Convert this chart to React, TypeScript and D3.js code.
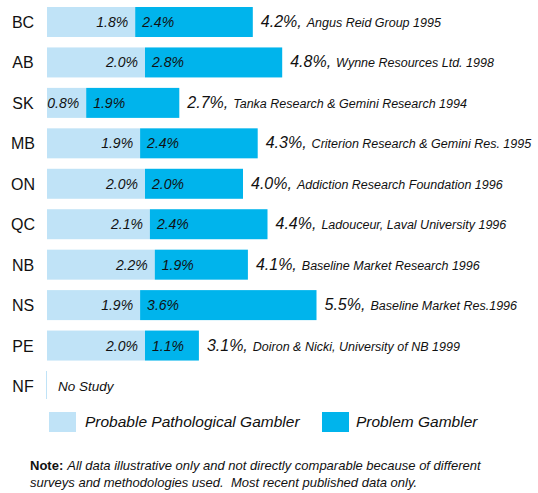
import React from 'react';
import * as d3 from 'd3';

const provinces = ['BC', 'AB', 'SK', 'MB', 'ON', 'QC', 'NB', 'NS', 'PE', 'NF'];
const pathological = [1.8, 2.0, 0.8, 1.9, 2.0, 2.1, 2.2, 1.9, 2.0, null];
const problem = [2.4, 2.8, 1.9, 2.4, 2.0, 2.4, 1.9, 3.6, 1.1, null];
const totals = ['4.2%', '4.8%', '2.7%', '4.3%', '4.0%', '4.4%', '4.1%', '5.5%', '3.1%', null];
const sources = [
  'Angus Reid Group 1995',
  'Wynne Resources Ltd. 1998',
  'Tanka Research & Gemini Research 1994',
  'Criterion Research & Gemini Res. 1995',
  'Addiction Research Foundation 1996',
  'Ladouceur, Laval University 1996',
  'Baseline Market Research 1996',
  'Baseline Market Res.1996',
  'Doiron & Nicki, University of NB 1999',
  null,
];
const seriesNames = ['Probable Pathological Gambler', 'Problem Gambler'];

const W = 538;
const H = 493;
const LIGHT = '#c0e3f7';
const DARK = '#00b4ec';
const FONT = '"Liberation Sans", Arial, sans-serif';

const App = () => {
  // 1% is roughly 49px
  const x = d3.scaleLinear().domain([0, 1]).range([47, 96]);
  const y = d3.scalePoint<string>().domain(provinces).range([22, 386]);
  const barH = 30;
  const fmt = (v: number) => v.toFixed(1) + '%';

  return (
    <svg width={W} height={H} style={{ position: 'absolute', left: 0, top: 0, background: '#fff' }} fontFamily={FONT}>
      {provinces.map((p, i) => {
        const cy = y(p) as number;
        const a = pathological[i];
        const b = problem[i];
        return (
          <g key={p}>
            <text x={23} y={cy + 6} textAnchor="middle" fontSize={16} fill="#111">{p}</text>
            {a == null || b == null ? (
              <g>
                <line x1={46.5} x2={46.5} y1={cy - 15} y2={cy + 13} stroke={LIGHT} strokeWidth={1} />
                <text x={58} y={cy + 5} fontSize={13.5} fontStyle="italic" fill="#111">No Study</text>
              </g>
            ) : (
              <g>
                <rect x={x(0)} y={cy - barH / 2} width={x(a) - x(0)} height={barH} fill={LIGHT} />
                <rect x={x(a)} y={cy - barH / 2} width={x(a + b) - x(a)} height={barH} fill={DARK} />
                <text x={x(a) - 7} y={cy + 5} textAnchor="end" fontSize={14} fontStyle="italic" fill="#111">{fmt(a)}</text>
                <text x={x(a) + 7} y={cy + 5} fontSize={14} fontStyle="italic" fill="#111">{fmt(b)}</text>
                <text x={x(a + b) + 8} y={cy + 5} fontStyle="italic" fill="#111">
                  <tspan fontSize={16}>{totals[i]},</tspan>
                  <tspan fontSize={12.5} dx={5}>{sources[i]}</tspan>
                </text>
              </g>
            )}
          </g>
        );
      })}

      {/* legend */}
      <rect x={49} y={412} width={27} height={20} fill={LIGHT} />
      <text x={85} y={427} fontSize={15.5} fontStyle="italic" fill="#111">{seriesNames[0]}</text>
      <rect x={322} y={412} width={27} height={20} fill={DARK} />
      <text x={356} y={427} fontSize={15.5} fontStyle="italic" fill="#111">{seriesNames[1]}</text>

      {/* note */}
      <text x={30} y={470} fontSize={13} fill="#111">
        <tspan fontWeight="bold">Note:</tspan>
        <tspan fontStyle="italic" dx={4}>All data illustrative only and not directly comparable because of different</tspan>
      </text>
      <text x={30} y={487} fontSize={13} fontStyle="italic" fill="#111" style={{ whiteSpace: 'pre' }}>
        {'surveys and methodologies used.  Most recent published data only.'}
      </text>
    </svg>
  );
};

export default App;
